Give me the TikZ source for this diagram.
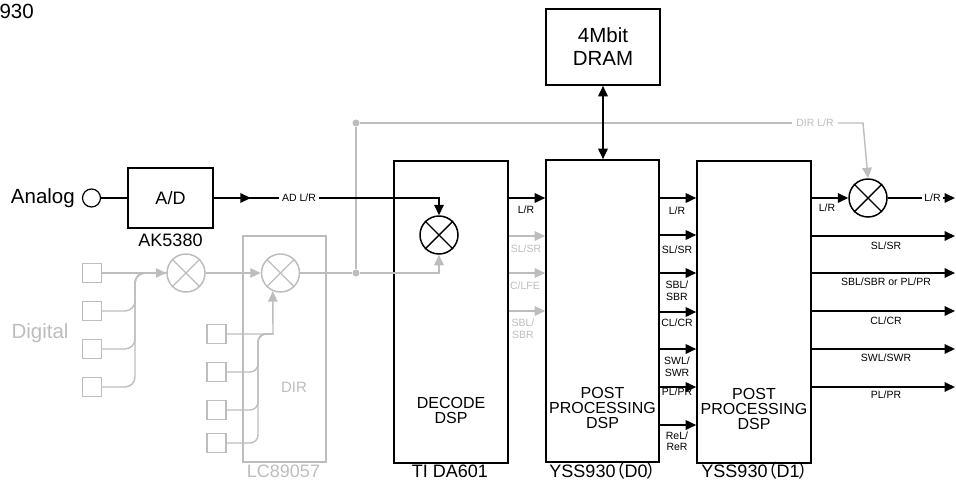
\documentclass[tikz,border=0pt]{standalone}
\usepackage{fontspec}
\setmainfont{Liberation Sans}
\newfontfamily\cjkfont[RawFeature=+palt]{Noto Sans CJK JP}
\usetikzlibrary{arrows.meta,positioning}

\definecolor{lightink}{HTML}{BDBDBD}
\newcommand\txtL{\fontsize{20.5}{23}\selectfont}
\newcommand\txtM{\fontsize{18}{20}\selectfont}
\newcommand\txtB{\fontsize{16}{15}\selectfont}
\newcommand\txtS{\fontsize{10.5}{11.5}\selectfont}

\tikzset{
  blockbox/.style={draw, line width=1.6pt, inner sep=0pt},
  mixer/.style={draw, circle, line width=1.5pt, minimum size=38pt, inner sep=0pt},
  port/.style={draw, line width=1.3pt, minimum size=19pt, inner sep=0pt},
  sig/.style={line width=1.7pt},
  greyline/.style={lightink, line width=1.4pt},
  tip/.style={-{Triangle[length=10.5pt,width=9.5pt]}},
  lab/.style={font=\txtS, inner sep=1pt, align=center},
  dot/.style={circle, fill, inner sep=0pt, minimum size=7pt},
}

\begin{document}
\begin{tikzpicture}[x=1pt, y=-1pt]
  \useasboundingbox (0,0) rectangle (956,480);

  \node[font=\txtL, anchor=base east, inner sep=0pt] (heading) at (34,18.3) {930};

  % analog input
  \node[font=\txtL, anchor=base east, inner sep=0pt] (analog) at (75,203.5) {Analog};
  \node[draw, circle, line width=1.2pt, minimum size=18pt, inner sep=0pt] (jack) at (91.5,198) {};
  \node[blockbox, minimum width=85pt, minimum height=60pt, font=\txtM] (ad) at (170.5,198) {A/D};
  \node[font=\txtM, anchor=base, inner sep=0pt] (adname) at (170.5,246) {AK5380};

  % digital inputs
  \begin{scope}[lightink]
    \foreach \i/\y in {1/273, 2/311, 3/349, 4/387}
      \node[port] (din\i) at (92,\y) {};
    \node[font=\txtL, anchor=base, inner sep=0pt] (digital) at (40,338) {Digital};
    \node[mixer] (mixA) at (186,273) {};
    \node[blockbox, minimum width=83pt, minimum height=226pt] (dir) at (284.5,349) {};
    \node[mixer] (mixB) at (280.5,273) {};
    \node[font=\fontsize{15}{17}\selectfont, anchor=base, inner sep=0pt] (dirtxt) at (294,392.5) {DIR};
    \node[font=\txtM, anchor=base, inner sep=0pt] (dirname) at (283.5,477.5) {LC89057};
    \foreach \i/\y in {1/334, 2/372, 3/410, 4/443}
      \node[port] (rin\i) at (216.5,\y) {};
    \node[dot] (jlow) at (356,273) {};
    \node[dot] (jhigh) at (356,123) {};
    \node[lab, inner sep=4pt] (dirlr) at (815,123) {DIR L/R};
  \end{scope}

  % dsp chain
  \node[blockbox, minimum width=114pt, minimum height=302pt] (dec) at (451,312) {};
  \node[mixer] (mixC) at (439,235) {};
  \node[blockbox, minimum width=113pt, minimum height=302pt] (dsp0) at (602.5,311) {};
  \node[blockbox, minimum width=114pt, minimum height=76pt, font=\txtL, align=center] (dram) at (603,47) {4Mbit\\DRAM};
  \node[blockbox, minimum width=114pt, minimum height=302pt] (dsp1) at (754,312) {};
  \node[mixer] (mixD) at (868,198) {};

  \node[font=\txtB, align=center] (dectxt) at (451,410.5) {DECODE\\DSP};
  \node[font=\txtB, align=center] (dsp0txt) at (602.5,408) {POST\\PROCESSING\\DSP};
  \node[font=\txtB, align=center] (dsp1txt) at (754,409) {POST\\PROCESSING\\DSP};

  \node[font=\txtM, anchor=base, inner sep=0pt] (decname) at (450,477.5) {TI DA601};
  \node[font=\txtM, anchor=base, inner sep=0pt] (dsp0name) at (603,477) {YSS930{\cjkfont （}D0{\cjkfont ）}};
  \node[font=\txtM, anchor=base, inner sep=0pt] (dsp1name) at (755,477) {YSS930{\cjkfont （}D1{\cjkfont ）}};

  \foreach \m/\c in {mixA/lightink, mixB/lightink, mixC/black, mixD/black}
    \draw[\c, line width=1.4pt] (\m.north east) -- (\m.south west) (\m.north west) -- (\m.south east);

  % labels
  \node[lab, inner sep=3pt] (adlr) at (299,198) {AD L/R};
  \node[lab] (declr) at (526,210) {L/R};
  \node[lab, lightink] (decsl) at (526,249) {SL/SR};
  \node[lab, lightink] (decc) at (525,286) {C/LFE};
  \node[lab, lightink] (decsb) at (523,328.5) {SBL/\\SBR};
  \foreach \y/\txt [count=\k] in {211/{L/R}, 250/{SL/SR}, 290.5/{SBL/\\SBR}, 323/{CL/CR},
      366.5/{SWL/\\SWR}, 392/{PL/PR}, 441/{ReL/\\ReR}}
    \node[lab] (d0lab\k) at (677,\y) {\txt};
  \node[lab] (d1lr) at (827,208) {L/R};
  \node[lab, inner sep=2pt] (olr) at (932.5,198) {L/R};
  \foreach \y/\txt [count=\k] in {246/{SL/SR}, 282/{SBL/SBR or PL/PR}, 321/{CL/CR},
      358/{SWL/SWR}, 395/{PL/PR}}
    \node[lab] (d1lab\k) at (886,\y) {\txt};

  % grey connectors
  \draw[greyline, tip] (din1) -- (mixA);
  \foreach \i in {2,3,4}
    \draw[greyline, rounded corners=10pt] (din\i.east) -- (135,0 |- din\i) -- (135,0 |- din1) -- (mixA.west);
  \draw[greyline, tip] (mixA) -- (mixB);
  \draw[greyline, tip] (rin1.east) -- (273,0 |- rin1) -- (mixB.247);
  \foreach \i in {2,3,4}
    \draw[greyline, rounded corners=8pt] (rin\i.east) -- (258,0 |- rin\i) -- (258,0 |- rin1) -- (273,0 |- rin1);
  \draw[greyline] (mixB) -- (jlow);
  \draw[greyline, tip] (jlow) -- (mixC.south |- jlow) -- (mixC.south);
  \draw[greyline] (jlow) -- (jhigh) -- (dirlr);
  \draw[greyline, tip] (dirlr) -- (863,0 |- dirlr) -- (mixD.north);
  \foreach \y in {236,273,311}
    \draw[greyline, tip] (dec.east |- 0,\y) -- (dsp0.west |- 0,\y);

  % black connectors
  \draw[line width=1.2pt] (jack) -- (ad);
  \draw[sig, tip] (ad.east) -- ++(37,0);
  \draw[sig] (ad.east) -- (adlr.west);
  \draw[sig, tip] (adlr.east) -- (mixC.north |- adlr) -- (mixC.north);
  \draw[sig, tip] (dec.east |- adlr) -- (dsp0.west |- adlr);
  \draw[sig, {Triangle[length=10.5pt,width=9.5pt]}-{Triangle[length=10.5pt,width=9.5pt]}] (dram.south) -- (dram.south |- dsp0.north);
  \foreach \y in {198,235,273,312,349,387,425}
    \draw[sig, tip] (dsp0.east |- 0,\y) -- (dsp1.west |- 0,\y);
  \draw[sig, tip] (dsp1.east |- mixD) -- (mixD);
  \draw[sig] (mixD) -- (olr);
  \coordinate (outA) at (955,198);
  \draw[sig, tip] (olr) -- (outA);
  \foreach \y [count=\k] in {236,273,311,349,387} {
    \coordinate (out\k) at (955,\y);
    \draw[sig, tip] (dsp1.east |- out\k) -- (out\k);
  }
\end{tikzpicture}
\end{document}
